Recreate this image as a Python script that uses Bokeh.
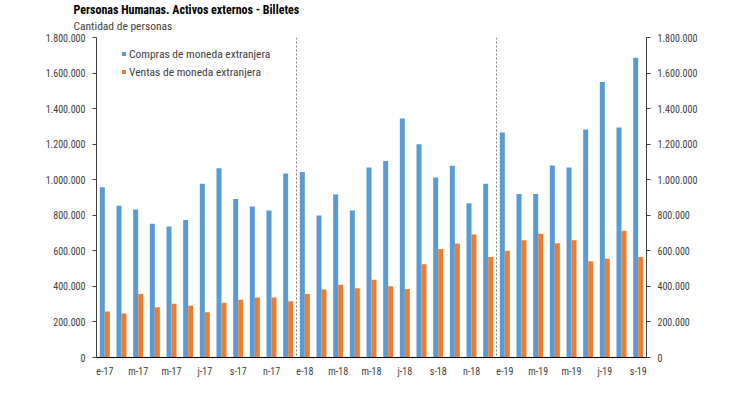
from bokeh.plotting import figure
from bokeh.models import (Range1d, FixedTicker, LinearAxis, Span, Legend, LegendItem, Title)
from bokeh.embed import file_html
from bokeh.resources import INLINE
import numpy as np

# ---- data ----
month_labels = ["e-17", "m-17", "m-17", "j-17", "s-17", "n-17",
                "e-18", "m-18", "m-18", "j-18", "s-18", "n-18",
                "e-19", "m-19", "m-19", "j-19", "s-19"]
compras = [958000, 853000, 832000, 752000, 737000, 773000, 977000, 1065000, 891000, 849000, 827000, 1035000,
           1043000, 799000, 917000, 827000, 1069000, 1105000, 1344000, 1200000, 1013000, 1078000, 868000, 977000,
           1266000, 919000, 919000, 1080000, 1069000, 1283000, 1549000, 1294000, 1686000]
ventas = [259000, 248000, 357000, 282000, 302000, 291000, 255000, 308000, 325000, 338000, 338000, 317000,
          357000, 383000, 409000, 390000, 437000, 401000, 386000, 525000, 611000, 641000, 692000, 566000,
          600000, 660000, 696000, 643000, 660000, 542000, 555000, 713000, 566000]
y_ticks = [0, 200000, 400000, 600000, 800000, 1000000, 1200000, 1400000, 1600000, 1800000]
y_tick_labels = ["0", "200.000", "400.000", "600.000", "800.000", "1.000.000",
                 "1.200.000", "1.400.000", "1.600.000", "1.800.000"]
year_breaks = [11.5, 23.5]

BLUE = "#5B9BD5"
ORANGE = "#ED7D31"
FONT = "Liberation Sans Narrow, Roboto Condensed, Liberation Sans, sans-serif"
TXT = "#404040"

n = len(compras)
x = np.arange(n)

p = figure(width=714, height=379, output_backend="svg", toolbar_location=None,
           x_range=Range1d(-0.5, n - 0.5), y_range=Range1d(0, 1800000),
           min_border_left=96, min_border_right=68, min_border_top=37, min_border_bottom=22,
           y_axis_location=None)
p.outline_line_color = None
p.xgrid.visible = False
p.ygrid.visible = False
p.background_fill_color = "white"

rb = p.vbar(x=x - 0.15, top=compras, width=0.3, fill_color=BLUE, line_color=None)
ro = p.vbar(x=x + 0.15, top=ventas, width=0.3, fill_color=ORANGE, line_color=None)

for b in year_breaks:
    p.add_layout(Span(location=b, dimension="height", line_color="#808080",
                      line_width=1, line_dash="2 2"))

# x axis
xa = p.xaxis[0]
xa.ticker = FixedTicker(ticks=list(range(0, n, 2)))
xa.major_label_overrides = {i * 2: lab for i, lab in enumerate(month_labels)}
xa.major_tick_out = 0
xa.major_tick_in = 0
xa.minor_tick_line_color = None
xa.axis_line_color = "#000000"
xa.major_label_text_font = FONT
xa.major_label_text_font_size = "10px"
xa.major_label_text_color = TXT
xa.major_label_standoff = 8

overrides = {v: s for v, s in zip(y_ticks, y_tick_labels)}
for side in ("left", "right"):
    ax = LinearAxis(ticker=FixedTicker(ticks=y_ticks), major_label_overrides=overrides)
    ax.major_tick_out = 4
    ax.major_tick_in = 0
    ax.minor_tick_line_color = None
    ax.axis_line_color = "#404040"
    ax.major_tick_line_color = "#404040"
    ax.major_label_text_font = FONT
    ax.major_label_text_font_size = "10px"
    ax.major_label_text_color = TXT
    ax.major_label_standoff = 7
    p.add_layout(ax, side)

legend = Legend(items=[LegendItem(label="Compras de moneda extranjera", renderers=[rb]),
                       LegendItem(label="Ventas de moneda extranjera", renderers=[ro])],
                location=(25, 278))
legend.glyph_width = 5
legend.glyph_height = 5
legend.label_height = 15
legend.spacing = 3
legend.padding = 0
legend.margin = 0
legend.label_standoff = 3
legend.border_line_color = None
legend.background_fill_alpha = 0
legend.label_text_font = FONT
legend.label_text_font_size = "11.5px"
legend.label_text_color = TXT
p.add_layout(legend)

sub = Title(text="Cantidad de personas", align="left", offset=-23, standoff=6, vertical_align="top",
            text_font=FONT, text_font_size="11.5px", text_font_style="normal", text_color=TXT)
p.add_layout(sub, "above")
ttl = Title(text="Personas Humanas. Activos externos - Billetes", align="left", offset=-23, standoff=-6,
            vertical_align="top",
            text_font=FONT, text_font_size="12px", text_font_style="bold", text_color="#000000")
p.add_layout(ttl, "above")

open("out.html", "w").write(file_html(p, INLINE))
